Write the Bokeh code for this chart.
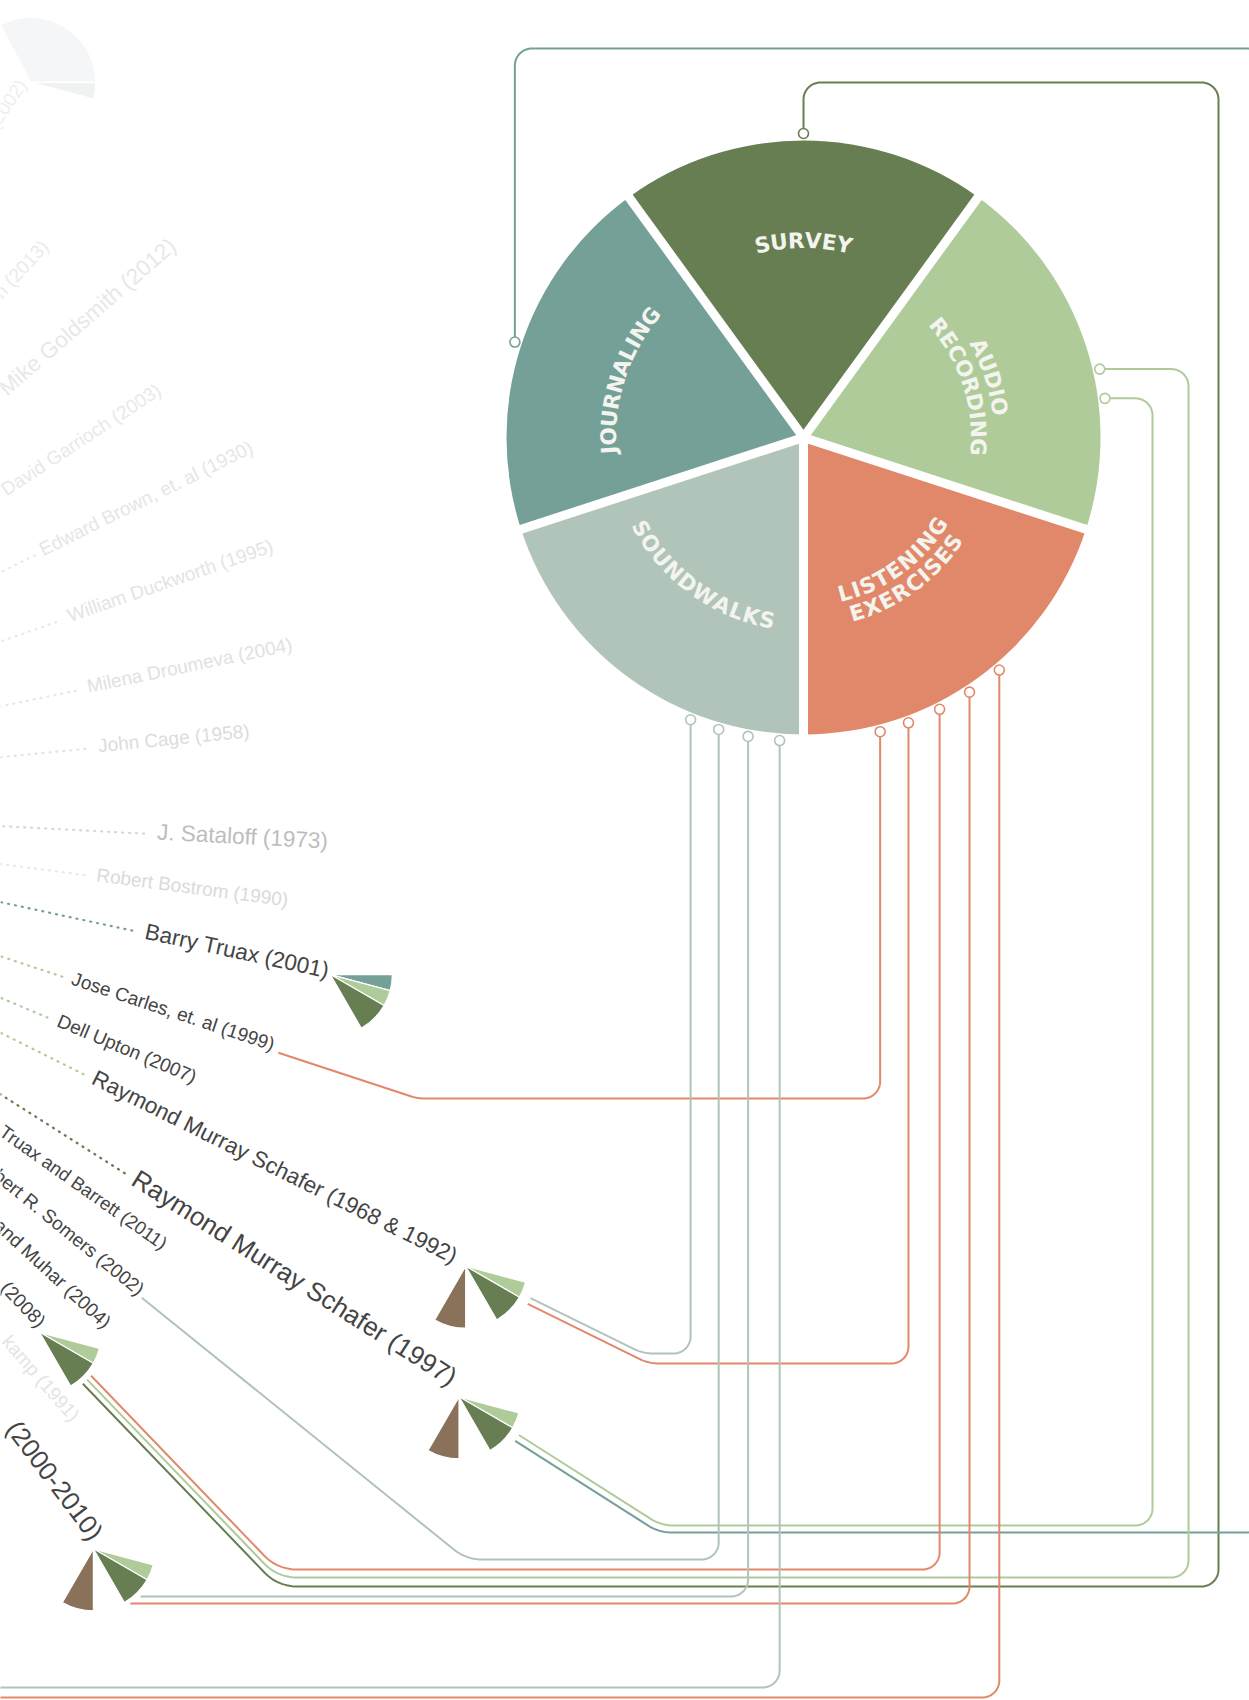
import math
from bokeh.plotting import figure
from bokeh.models import ColumnDataSource, Range1d
from bokeh.embed import file_html
from bokeh.resources import INLINE
from bokeh.core.properties import value

W, H = 1249, 1700

# ---------------- data ----------------
methods = ["Survey", "Audio Recording", "Listening Exercises", "Soundwalks", "Journaling"]
method_titles = [["SURVEY"], ["AUDIO", "RECORDING"], ["LISTENING", "EXERCISES"], ["SOUNDWALKS"], ["JOURNALING"]]
method_share = [1, 1, 1, 1, 1]
method_colors = {"Survey": "#667E51", "Audio Recording": "#AECB99", "Listening Exercises": "#E2886A",
                 "Soundwalks": "#B0C4BA", "Journaling": "#74A097", "Other": "#8A725A"}

author_names = ["", "n", "Mike Goldsmith", "David Garrioch", "Edward Brown, et. al", "William Duckworth",
                "Milena Droumeva", "John Cage", "J. Sataloff", "Robert Bostrom", "Barry Truax",
                "Jose Carles, et. al", "Dell Upton", "Raymond Murray Schafer", "Raymond Murray Schafer",
                "Truax and Barrett", "Robert R. Somers", "and Muhar", "", "kamp", ""]
author_years = ["2002", "2013", "2012", "2003", "1930", "1995", "2004", "1958", "1973", "1990", "2001",
                "1999", "2007", "1968 & 1992", "1997", "2011", "2002", "2004", "2008", "1991", "2000-2010"]

# small fans: which author, which methods
fan_author = [0, 10, 13, 14, 18, 20]
fan_methods = [["faded"],
               ["Journaling", "Audio Recording", "Survey"],
               ["Audio Recording", "Survey", "Other"],
               ["Audio Recording", "Survey", "Other"],
               ["Audio Recording", "Survey"],
               ["Audio Recording", "Survey", "Other"]]

# connections: method port -> author
conn_method = ["Survey", "Journaling", "Audio Recording", "Audio Recording",
               "Listening Exercises", "Listening Exercises", "Listening Exercises",
               "Listening Exercises", "Listening Exercises",
               "Soundwalks", "Soundwalks", "Soundwalks", "Soundwalks"]
conn_author = [18, 14, 18, 14, 11, 13, 18, 20, None, 13, 16, 20, None]

# ---------------- layout (screen px) ----------------
C = (-465.0, 808.0)              # centre of the radial author wheel
PC = (803.0, 437.0)              # main pie centre
PR = 297.0
PORT_R = 304.0
DARK = "#444444"

label_angle = [55.7, 47.4, 41.0, 33.4, 26.3, 19.1, 11.7, 5.6, -3.0, -7.5, -12.2, -18.3, -22.8,
               -26.5, -32.4, -35.3, -39.1, -42.6, -46.1, -49.0, -53.0]
label_r = [875, 761, 626, 565, 567, 566, 565, 566, 622, 565, 622, 563, 564, 619, 703, 566, 563,
           771, 723, 815, 920]
label_at_end = [True, True] + [False] * 15 + [True, True, True, True]
label_size = [19, 19, 22.5, 19, 19, 19, 19, 19, 22.5, 19, 22.5, 19, 19, 22.5, 26, 18.5, 19, 19, 19, 19, 26]
label_color = ["#EEEFEF", "#EBEBEB", "#E8E8E8", "#E9E9E9", "#E6E6E6", "#E4E4E4", "#E1E1E1", "#DCDCDC",
               "#BDBDBD", "#DADADA", DARK, DARK, DARK, DARK, DARK, DARK, DARK, DARK, DARK, "#E4E4E4", DARK]
leader_color = [None, None, "#EFEFEF", "#EEEEEE", "#E9E9E9", "#E8E8E8", "#E6E6E6", "#E3E3E3",
                "#D6D6D6", "#E8E8E8", "#74A097", "#AECB99", "#AECB99", "#AECB99", "#667E51",
                None, None, None, None, None, None]

fan_angle = [55.7, -11.8, -26.2, -32.5, -46.1, -53.0]
fan_r = [879, 812, 1036.7, 1095, 727, 927]
FAN_RAD = 62
slot = {"Journaling": (-15, 0), "Audio Recording": (-30, -15), "Survey": (-60, -30), "Other": (-120, -90)}

conn_port = [0.0, 288.3, 77.0, 82.6, 165.4, 159.8, 153.4, 146.9, 139.9, 201.8, 196.2, 190.5, 184.5]
conn_lane = [1586, 1532, 1577, 1525, 1098, 1363, 1569, 1603, 1697, 1353, 1559, 1596, 1687]
conn_side = [1218, 1263, 1188, 1152] + [None] * 9
conn_top = [82, 48] + [None] * 11
# start: ("ray", angle, r, perp) | ("flat", dx from fan apex) | ("edge",)
conn_start = [("ray", -46.1, 794, 4.5), ("ray", -32.5, 1166, 7), ("ray", -46.1, 794, -1.5),
              ("ray", -32.5, 1166, 0), ("ray", -18.2, 782, 0), ("ray", -26.2, 1109, 6.5),
              ("ray", -46.1, 794, -7), ("flat", 37), ("edge",), ("ray", -26.2, 1109, 0),
              ("ray", -38.9, 779, 0), ("flat", 47), ("edge",)]


def pol(a_deg, r, perp=0.0):
    a = math.radians(a_deg)
    return (C[0] + r * math.cos(a) + perp * math.sin(a), C[1] - r * math.sin(a) + perp * math.cos(a))


def port_xy(phi):
    f = math.radians(phi)
    return (PC[0] + PORT_R * math.sin(f), PC[1] - PORT_R * math.cos(f))


def rounded(pts, radii, n=14):
    xs, ys = [pts[0][0]], [pts[0][1]]
    for i in range(1, len(pts) - 1):
        (x0, y0), (x1, y1), (x2, y2) = pts[i - 1], pts[i], pts[i + 1]
        ux, uy = x0 - x1, y0 - y1
        l1 = math.hypot(ux, uy); ux /= l1; uy /= l1
        vx, vy = x2 - x1, y2 - y1
        l2 = math.hypot(vx, vy); vx /= l2; vy /= l2
        ang = math.acos(max(-1.0, min(1.0, ux * vx + uy * vy)))
        if ang > math.pi - 1e-3:
            xs.append(x1); ys.append(y1); continue
        r = radii[i - 1]
        d = min(r / math.tan(ang / 2), l1 * 0.5, l2 * 0.5)
        r = d * math.tan(ang / 2)
        t1 = (x1 + ux * d, y1 + uy * d); t2 = (x1 + vx * d, y1 + vy * d)
        bx, by = ux + vx, uy + vy
        bl = math.hypot(bx, by); bx /= bl; by /= bl
        h = r / math.sin(ang / 2)
        cx, cy = x1 + bx * h, y1 + by * h
        a1 = math.atan2(t1[1] - cy, t1[0] - cx); a2 = math.atan2(t2[1] - cy, t2[0] - cx)
        da = (a2 - a1 + math.pi) % (2 * math.pi) - math.pi
        for k in range(n + 1):
            a = a1 + da * k / n
            xs.append(cx + r * math.cos(a)); ys.append(cy + r * math.sin(a))
    xs.append(pts[-1][0]); ys.append(pts[-1][1])
    return xs, ys


def dy(v):
    return [H - t for t in v] if isinstance(v, list) else H - v


p = figure(width=W, height=H, x_range=Range1d(0, W), y_range=Range1d(0, H),
           output_backend="svg", toolbar_location=None, min_border=0,
           x_axis_type=None, y_axis_type=None)
p.grid.visible = False
p.outline_line_color = None
p.background_fill_color = "white"
p.border_fill_color = "white"

# ---- leaders ----
lx, ly, lc = [], [], []
for i, col in enumerate(leader_color):
    if col is None or label_at_end[i]:
        continue
    off = -0.3 * label_size[i]
    a0 = pol(label_angle[i], 300, off); a1 = pol(label_angle[i], label_r[i] - 7, off)
    lx.append([a0[0], a1[0]]); ly.append(dy([a0[1], a1[1]])); lc.append(col)
p.multi_line(xs=lx, ys=ly, line_color=lc, line_width=2.2, line_dash="1 6", line_cap="round")

# ---- author labels ----
for at_end, align in ((False, "left"), (True, "right")):
    d = dict(x=[], y=[], text=[], angle=[], size=[], color=[])
    for i in range(len(author_names)):
        if label_at_end[i] != at_end:
            continue
        x, y = pol(label_angle[i], label_r[i], -0.4 * label_size[i])
        nm = author_names[i]
        d["x"].append(x); d["y"].append(dy(y))
        d["text"].append((nm + " " if nm else "") + "(" + author_years[i] + ")")
        d["angle"].append(math.radians(label_angle[i]))
        d["size"].append("%gpx" % label_size[i]); d["color"].append(label_color[i])
    p.text(x="x", y="y", text="text", angle="angle", text_font_size="size", text_color="color",
           text_align=align, text_baseline="alphabetic", text_font=value("Liberation Sans"),
           source=ColumnDataSource(d))

# ---- small fans ----
fw = dict(x=[], y=[], r=[], s=[], e=[], c=[])
for f, ms in enumerate(fan_methods):
    ax, ay = pol(fan_angle[f], fan_r[f])
    if ms == ["faded"]:
        parts = [("#F5F6F8", 0, 118, 65), ("#F0F2F1", -15, 0, 65)]
    else:
        parts = [(method_colors[m], slot[m][0], slot[m][1], FAN_RAD) for m in ms]
    for col, s, e, rr in parts:
        fw["x"].append(ax); fw["y"].append(dy(ay)); fw["r"].append(rr)
        fw["s"].append(math.radians(s)); fw["e"].append(math.radians(e)); fw["c"].append(col)
p.wedge(x="x", y="y", radius="r", start_angle="s", end_angle="e", fill_color="c",
        line_color="white", line_width=1.2, source=ColumnDataSource(fw))

# ---- connectors ----
cx_, cy_, cc = [], [], []
for k, m in enumerate(conn_method):
    port = port_xy(conn_port[k])
    lane = conn_lane[k]
    st = conn_start[k]
    pts, radii = [], []
    if st[0] == "ray":
        S = pol(st[1], st[2], st[3])
        a = math.radians(st[1])
        dxr, dyr = math.cos(a), -math.sin(a)
        t = (lane - S[1]) / dyr
        P = (S[0] + t * dxr, S[1] + t * dyr)
        pts = [S, P]; radii = [45]
    elif st[0] == "flat":
        f = fan_author.index(conn_author[k])
        ax, ay = pol(fan_angle[f], fan_r[f])
        pts = [(ax + st[1], lane)]
    else:
        pts = [(-20, lane)]
    if conn_side[k] is not None:
        pts.append((conn_side[k], lane)); radii.append(17)
        if conn_top[k] is not None:
            pts += [(conn_side[k], conn_top[k]), (port[0], conn_top[k])]; radii += [17, 17]
        else:
            pts.append((conn_side[k], port[1])); radii.append(17)
    else:
        pts.append((port[0], lane)); radii.append(17)
    pts.append(port)
    xs, ys = rounded(pts, radii)
    cx_.append(xs); cy_.append(dy(ys)); cc.append(method_colors[m])
p.multi_line(xs=cx_, ys=cy_, line_color=cc, line_width=2, line_join="round")

# ---- main pie ----
tot = sum(method_share)
bounds = [-36.0]
for s in method_share:
    bounds.append(bounds[-1] + 360.0 * s / tot)
pw = dict(s=[], e=[], c=[])
for i, m in enumerate(methods):
    pw["s"].append(math.radians(90 - bounds[i + 1])); pw["e"].append(math.radians(90 - bounds[i]))
    pw["c"].append(method_colors[m])
p.wedge(x=PC[0], y=dy(PC[1]), radius=PR, start_angle="s", end_angle="e", fill_color="c",
        line_color=None, source=ColumnDataSource(pw))
sx0, sy0, sx1, sy1 = [], [], [], []
for b in bounds[:-1]:
    f = math.radians(b)
    sx0.append(PC[0]); sy0.append(dy(PC[1]))
    sx1.append(PC[0] + (PR + 4) * math.sin(f)); sy1.append(dy(PC[1] - (PR + 4) * math.cos(f)))
p.segment(x0=sx0, y0=sy0, x1=sx1, y1=sy1, line_color="white", line_width=9)

# ---- curved pie titles ----
CW = {'A': .774, 'C': .734, 'D': .830, 'E': .683, 'G': .821, 'I': .372, 'J': .372, 'K': .775,
      'L': .637, 'N': .837, 'O': .850, 'R': .770, 'S': .720, 'T': .682, 'U': .812, 'V': .774,
      'W': 1.103, 'X': .771, 'Y': .724}
FS, SP = 20.0, 1.5
title_r = {"Survey": [197], "Audio Recording": [198, 175], "Listening Exercises": [161, 183],
           "Soundwalks": [186], "Journaling": [195]}
title_out = {"Survey": True, "Audio Recording": True, "Listening Exercises": False,
             "Soundwalks": False, "Journaling": True}
td = dict(x=[], y=[], t=[], a=[])
for i, m in enumerate(methods):
    phic = (bounds[i] + bounds[i + 1]) / 2
    for line, rb in zip(method_titles[i], title_r[m]):
        w = [CW[ch] * FS + SP for ch in line]
        L = sum(w) - SP
        s = 0.0
        for ch, wi in zip(line, w):
            mid = s + (wi - SP) / 2
            off = math.degrees((mid - L / 2) / rb)
            phi = phic + off if title_out[m] else phic - off
            f = math.radians(phi)
            td["x"].append(PC[0] + rb * math.sin(f)); td["y"].append(dy(PC[1] - rb * math.cos(f)))
            td["t"].append(ch)
            td["a"].append(math.radians(-phi if title_out[m] else -(phi + 180)))
            s += wi
p.text(x="x", y="y", text="t", angle="a", text_font=value("DejaVu Sans"), text_font_style="bold",
       text_font_size="21.5px", text_color="#F4F4EF", text_align="center", text_baseline="alphabetic",
       source=ColumnDataSource(td))

# ---- ports ----
px_, py_, pc_ = [], [], []
for k, m in enumerate(conn_method):
    x, y = port_xy(conn_port[k])
    px_.append(x); py_.append(dy(y)); pc_.append(method_colors[m])
p.scatter(x=px_, y=py_, size=10, marker="circle", fill_color="white", line_color=pc_, line_width=1.6)

open("out.html", "w").write(file_html(p, INLINE))
